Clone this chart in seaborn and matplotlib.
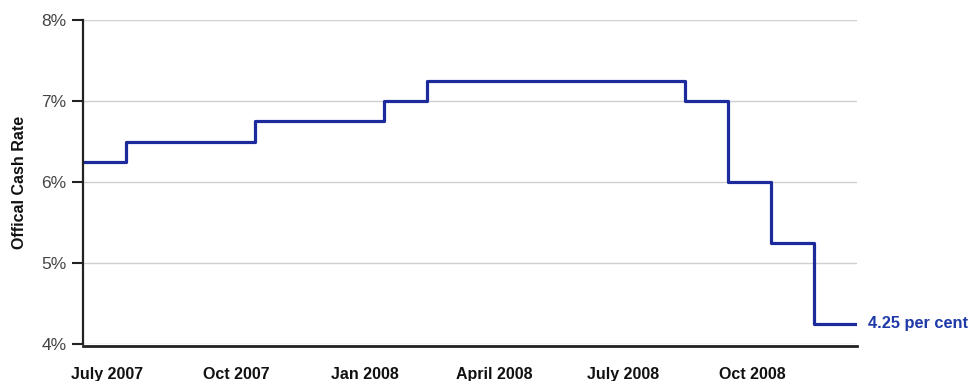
import matplotlib
matplotlib.use("Agg")
import matplotlib.pyplot as plt
import seaborn as sns
import pandas as pd
import numpy as np

# Monthly official cash rate, July 2007 .. Dec 2008
months = ["Jul 2007", "Aug 2007", "Sep 2007", "Oct 2007", "Nov 2007", "Dec 2007",
          "Jan 2008", "Feb 2008", "Mar 2008", "Apr 2008", "May 2008", "Jun 2008",
          "Jul 2008", "Aug 2008", "Sep 2008", "Oct 2008", "Nov 2008", "Dec 2008"]
rates = [6.25, 6.50, 6.50, 6.50, 6.75, 6.75,
         6.75, 7.00, 7.25, 7.25, 7.25, 7.25,
         7.25, 7.25, 7.00, 6.00, 5.25, 4.25]
tick_labels = ["July 2007", "Oct 2007", "Jan 2008", "April 2008", "July 2008", "Oct 2008"]
y_ticks = [4, 5, 6, 7, 8]
annotation = "4.25 per cent"

sns.set_theme(style="white")
plt.rcParams["font.family"] = ["Liberation Sans", "DejaVu Sans"]

# step edges: each month occupies [i, i+1); repeat last value to close final step
x = list(range(len(months) + 1))
y = rates + [rates[-1]]
df = pd.DataFrame({"month_idx": x, "rate": y})

fig = plt.figure(figsize=(9.72, 3.81), dpi=100)
ax = fig.add_axes([83/972, 1 - 344/381, (857 - 83)/972, (344 - 20)/381])

line_color = "#1c2a9c"
sns.lineplot(data=df, x="month_idx", y="rate", ax=ax, drawstyle="steps-post",
             color=line_color, linewidth=2.3)

# spines first (set_position resets ticks)
for s in ["top", "right"]:
    ax.spines[s].set_visible(False)
ax.spines["left"].set_color("#222222")
ax.spines["left"].set_linewidth(1.6)
ax.spines["bottom"].set_color("#222222")
ax.spines["bottom"].set_linewidth(2.0)
ax.spines["bottom"].set_position(("outward", 1.5))

ax.set_xlim(0, len(months))
ax.set_ylim(4, 8)

ax.tick_params(axis="x", length=0, pad=15)
ax.tick_params(axis="y", length=8, width=1.5, color="#222222", pad=4, left=True)

# grid
for v in y_ticks:
    ax.axhline(v, color="#d0d0d0", linewidth=1.0, zorder=0)

ax.set_yticks(y_ticks)
ax.set_yticklabels([f"{v}%" for v in y_ticks])
for lbl in ax.get_yticklabels():
    lbl.set_fontsize(12.5)
    lbl.set_color("#444444")

tick_pos = [i * 3 + 0.56 for i in range(len(tick_labels))]
ax.set_xticks(tick_pos)
ax.set_xticklabels(tick_labels)
for lbl in ax.get_xticklabels():
    lbl.set_fontsize(11.5)
    lbl.set_fontweight("bold")
    lbl.set_color("#111111")

ax.set_xlabel("")
ax.set_ylabel("Offical Cash Rate", fontsize=11.5, fontweight="bold", color="#111111", labelpad=10)

ax.annotate(annotation, xy=(len(months), rates[-1]), xytext=(8, 0),
            textcoords="offset points", va="center", ha="left",
            fontsize=11.8, fontweight="bold", color="#1f3aa8", annotation_clip=False)

fig.savefig("out.png", dpi=100)
